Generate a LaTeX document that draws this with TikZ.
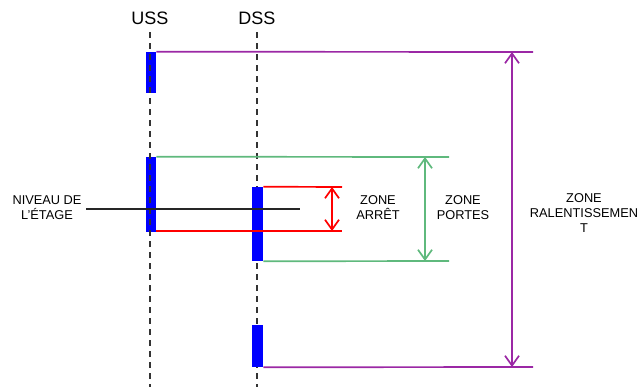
\documentclass[tikz,border=0pt]{standalone}
\usepackage{fontspec}
\setmainfont{Liberation Sans}
\usetikzlibrary{arrows.meta, positioning, calc}

\definecolor{zonepurple}{RGB}{155,40,165}
\definecolor{zonegreen}{RGB}{95,185,125}

\begin{document}
\begin{tikzpicture}[
    x=0.025cm, y=-0.025cm,
    bar/.style={rectangle, fill=blue, inner sep=0pt, minimum width=10*\pxl},
    sensor/.style={font=\fontsize{12.8}{15}\selectfont, inner sep=1pt},
    shaft/.style={dash pattern=on 6*\pxl off 5*\pxl, line width=1pt, black!80},
    label/.style={font=\fontsize{9.1}{10.7}\selectfont, align=center, inner sep=1pt},
    edge/.style={line width=1.2pt},
    dim/.style={{Straight Barb[length=7pt,width=10pt]}-{Straight Barb[length=7pt,width=10pt]}, line width=1.2pt}
]
    % Spacing constants
    \def\pxl{0.025cm}
    \useasboundingbox (0,0) rectangle (640,387);

    % Sensors
    \node[sensor] (uss) at (150,18) {USS};
    \node[sensor] (dss) at (257,18) {DSS};
    \coordinate (ussEnd) at (150,387);
    \coordinate (dssEnd) at (257,387);
    \draw[shaft] ($(dss.south)+(0,6)$) -- (dssEnd);

    % Vanes
    \node[bar, minimum height=41*\pxl] (ussTop) at (151,72.5) {};
    \node[bar, minimum height=75*\pxl] (ussMid) at (151,194.5) {};
    \node[bar, minimum width=11*\pxl, minimum height=74*\pxl] (dssMid) at (257.5,224) {};
    \node[bar, minimum width=11*\pxl, minimum height=42*\pxl] (dssBot) at (257.5,346) {};
    \draw[shaft] ($(uss.south)+(0,6)$) -- (ussEnd);

    % Slowdown zone
    \coordinate (slowTop) at (533,52);
    \coordinate (slowBot) at (533,367);
    \coordinate (slowA) at (512,52);
    \coordinate (slowB) at (512,367);
    \draw[edge, zonepurple] (ussTop.north east) -- (slowTop);
    \draw[edge, zonepurple] (dssBot.south east) -- (slowBot);
    \draw[dim, zonepurple] (slowA) -- (slowB);

    % Door zone
    \coordinate (doorTop) at (449,157);
    \coordinate (doorBot) at (449,261);
    \coordinate (doorA) at (425,157);
    \coordinate (doorB) at (425,261);
    \draw[edge, zonegreen] (ussMid.north east) -- (doorTop);
    \draw[edge, zonegreen] (dssMid.south east) -- (doorBot);
    \draw[dim, zonegreen] (doorA) -- (doorB);

    % Stop zone
    \coordinate (stopTop) at (342,187);
    \coordinate (stopBot) at (342,231);
    \coordinate (stopA) at (332,187);
    \coordinate (stopB) at (332,231);
    \draw[edge, red] (dssMid.north east) -- (stopTop);
    \draw[edge, red] (ussMid.south east |- stopBot) -- (stopBot);
    \draw[dim, red] (stopA) -- (stopB);

    % Floor level
    \node[label] (floor) at (47,208) {NIVEAU DE\\L'ÉTAGE};
    \coordinate (floorEnd) at (300,209);
    \draw[line width=0.8pt, black!85] ($(floor.east |- floorEnd)+(3,0)$) -- (floorEnd);

    % Zone labels
    \node[label] (stop) at (378,208) {ZONE\\ARRÊT};
    \node[label] (door) at (463,208) {ZONE\\PORTES};
    \node[label] (slow) at (584,213) {ZONE\\RALENTISSEMEN\\T};

\end{tikzpicture}
\end{document}
